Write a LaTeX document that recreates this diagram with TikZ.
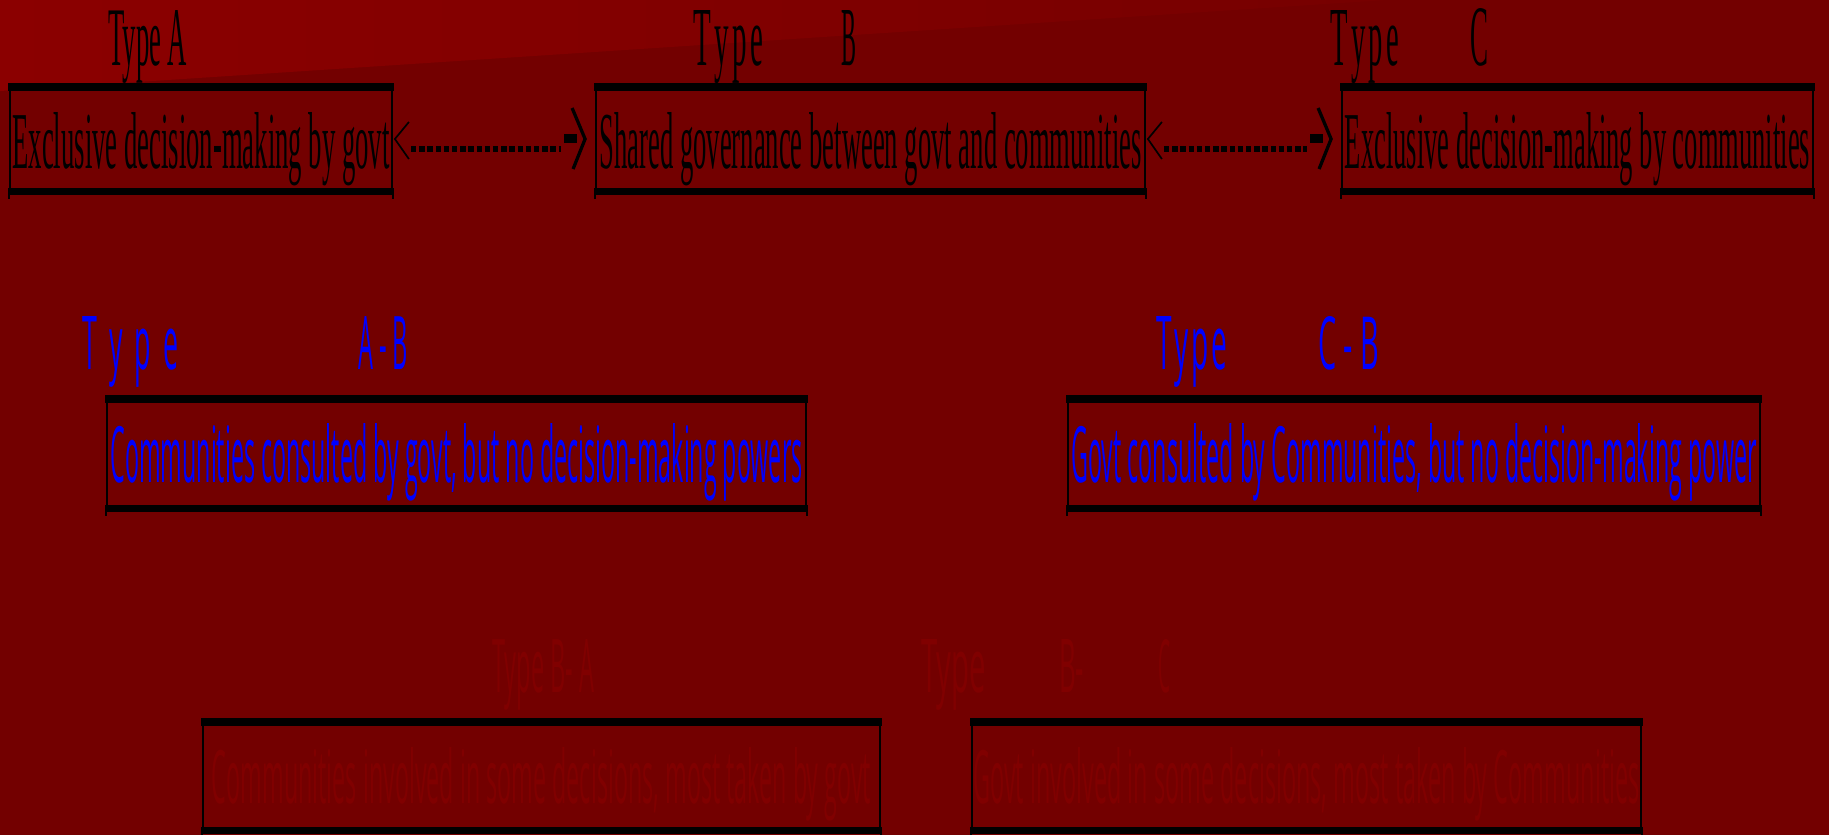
\documentclass[tikz,border=0pt]{standalone}
\usepackage{fontspec}
\setmainfont{Liberation Serif}
\newfontfamily\condsans{Open Sans}
\usepackage{graphicx}
\usepackage{xcolor}
\usepackage{tikz}
\usetikzlibrary{calc}

\definecolor{bgred}{RGB}{115,0,0}
\definecolor{topred}{RGB}{139,0,0}
\definecolor{dimred}{RGB}{128,0,0}
\definecolor{typeblue}{RGB}{0,0,255}
\newcommand{\fit}[3]{\resizebox{#1pt}{#2pt}{#3}}

\begin{document}
\begin{tikzpicture}[x=1pt,y=-1pt,
  box/.style={draw=black,line width=1.8pt,inner sep=0pt},
  toprow/.style={box,font=\rmfamily,text=black,text height=84pt,text depth=26pt},
  midrow/.style={box,font=\condsans,text=typeblue,text height=86pt,text depth=29pt},
  lowrow/.style={box,font=\condsans,text=dimred,text height=84pt,text depth=30pt},
  lab/.style={anchor=base west,inner sep=0pt}]
% background
\fill[bgred] (0,0) rectangle (1829,835);
\shade[left color=topred,right color=bgred!85!topred] (0,0) -- (1387,0) -- (0,91) -- cycle;
\useasboundingbox (0,0) rectangle (1829,835);

% top row
\node[lab,font=\rmfamily] (labA) at (108,65) {\fit{79}{55}{Type A}};
\node[lab,font=\rmfamily] (labB) at (693,65) {\fit{70}{55}{T\hspace{0.12em}y\hspace{0.12em}p\hspace{0.12em}e}\hspace{78pt}\fit{15}{55}{B}};
\node[lab,font=\rmfamily] (labC) at (1330,65) {\fit{69}{55}{T\hspace{0.12em}y\hspace{0.12em}p\hspace{0.12em}e}\hspace{71pt}\fit{18}{57}{C}};
\node[toprow,minimum width=382pt] (typeA) at (201,139) {\fit{377}{56}{Exclusive decision-making by govt}};
\node[toprow,minimum width=549pt] (typeB) at (870.5,139) {\fit{542}{56}{Shared governance between govt and communities}};
\node[toprow,minimum width=471pt] (typeC) at (1577.5,139) {\fit{465}{56}{Exclusive decision-making by communities}};

% middle row
\node[lab,font=\condsans,text=typeblue] (labAB) at (82,369) {\fit{96}{53}{T\hspace{0.45em}y\hspace{0.45em}p\hspace{0.45em}e}\hspace{180pt}\fit{50}{53}{A - B}};
\node[lab,font=\condsans,text=typeblue] (labCB) at (1156,369) {\fit{71}{53}{T\hspace{0.1em}y\hspace{0.1em}p\hspace{0.1em}e}\hspace{91pt}\fit{61}{53}{C - B}};
\node[midrow,minimum width=699pt] (typeAB) at (456.5,453.5) {\fit{692}{59}{Communities consulted by govt, but no decision-making powers}};
\node[midrow,minimum width=692pt] (typeCB) at (1414,453.5) {\fit{685}{59}{Govt consulted by Communities, but no decision-making power}};

% bottom row
\node[lab,font=\condsans,text=dimred] (labBA) at (492,692) {\fit{102}{53}{Type B- A}};
\node[lab,font=\condsans,text=dimred] (labBC) at (921,692) {\fit{65}{53}{Type}\hspace{73pt}\fit{25}{53}{B-}\hspace{74pt}\fit{12}{53}{C}};
\node[lowrow,minimum width=677pt] (typeBA) at (541.5,776) {\fit{659}{56}{Communities involved in some decisions, most taken by govt}};
\node[lowrow,minimum width=669pt] (typeBC) at (1306.5,776) {\fit{666}{56}{Govt involved in some decisions, most taken by Communities}};

% thick top and bottom rules of the boxes
\foreach \b in {typeA,typeB,typeC,typeAB,typeCB,typeBA,typeBC}{
  \fill ([xshift=-1pt]\b.north west) rectangle ([xshift=1pt,yshift=-8pt]\b.north east);
  \fill ([xshift=-1pt,yshift=7pt]\b.south west) rectangle ([xshift=1pt]\b.south east);
  \draw[line width=1.8pt] (\b.south west) -- ++(0,4);
  \draw[line width=1.8pt] (\b.south east) -- ++(0,4);
}

% two-way arrows between the top boxes
\foreach \l/\r in {typeA/typeB,typeB/typeC}{
  \coordinate (tl) at ([xshift=2pt]\l.east);
  \coordinate (tr) at ([xshift=-10pt]\r.west);
  \draw[line width=1.7pt] ([xshift=14pt,yshift=17pt]tl) -- (tl) -- ([xshift=14pt,yshift=-20pt]tl);
  \draw[line width=6pt,dash pattern=on 5.5pt off 2.7pt] ([xshift=16pt,yshift=-10pt]tl) -- ([xshift=-24pt,yshift=-10pt]tr);
  \fill ([xshift=-21pt,yshift=5pt]tr) rectangle ([xshift=-8pt,yshift=-4pt]tr);
  \draw[line width=3.3pt,line join=miter] ([xshift=-13pt,yshift=31pt]tr) -- (tr) -- ([xshift=-12pt,yshift=-30pt]tr);
}
\end{tikzpicture}
\end{document}
